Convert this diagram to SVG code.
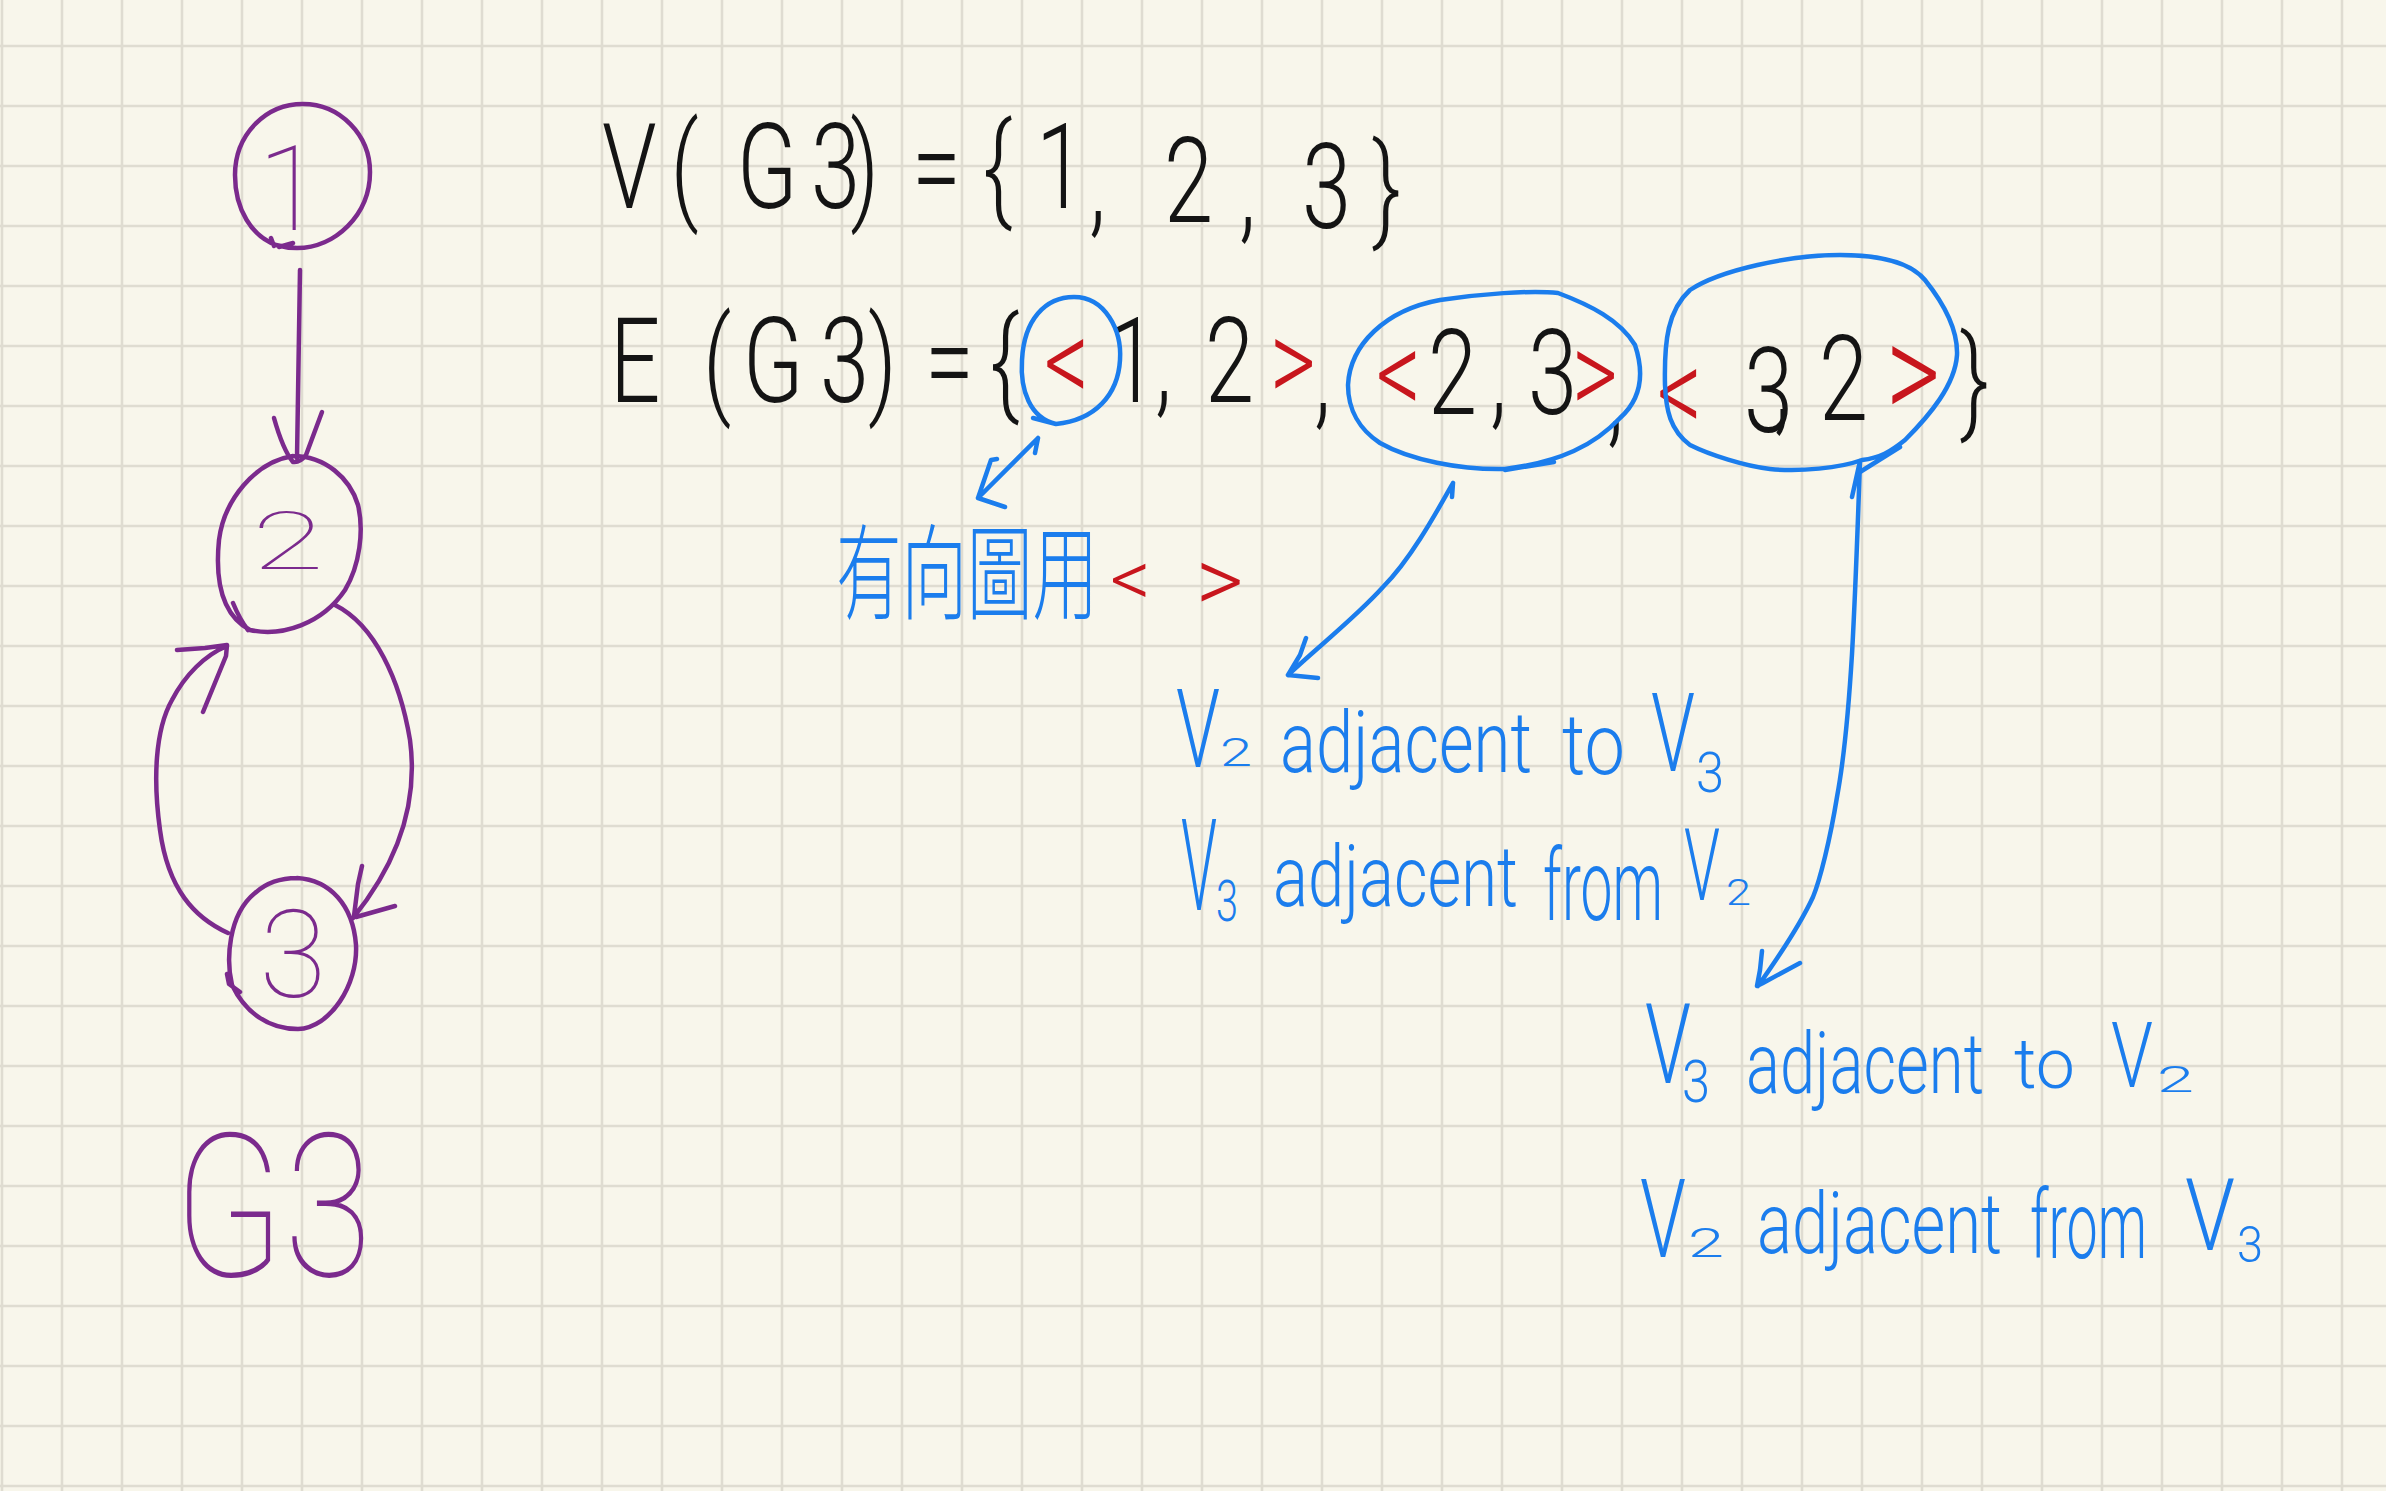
<svg xmlns="http://www.w3.org/2000/svg" width="2386" height="1491" viewBox="0 0 2386 1491">
<defs>
<pattern id="grid" x="-28" y="16" width="60" height="60" patternUnits="userSpaceOnUse">
<path d="M30,0 V60 M0,30 H60" stroke="#dfdcd1" stroke-width="2.6" fill="none"/>
</pattern>
<style>
.pu{fill:none;stroke:#7b2a8d;stroke-width:4.5;stroke-linecap:round;stroke-linejoin:round}
.bl{fill:none;stroke:#1b7ded;stroke-width:4.5;stroke-linecap:round;stroke-linejoin:round}
.hw{font-family:Roboto,"Liberation Sans",sans-serif;font-weight:300}
.thin{font-weight:100}
.blk{fill:#141414}
.r{fill:#c8161d}
.bt{fill:#1b7ded}
.pt{fill:#7b2a8d}
.cjk{font-family:"Noto Sans CJK TC","Noto Sans CJK SC",sans-serif;font-weight:300}
</style>
</defs>
<rect width="2386" height="1491" fill="#f8f6eb"/>
<rect width="2386" height="1491" fill="url(#grid)"/>

<g id="node-1">
<path class="pu" d="M276,245 C252,236 235,210 235,175 C235,135 265,104 303,104 C340,104 370,135 370,172 C370,215 335,248 297,248 C290,248 283,247 276,245 M271,238 L274,246 M279,247 L293,243"/>
<text class="hw thin pt" x="290" y="230" font-size="118" text-anchor="middle">1</text>
</g>

<g id="node-2">
<path class="pu" d="M293,456 C255,462 224,500 219,540 C215,580 222,615 250,630 C282,637 322,624 345,590 C360,565 364,530 358,505 C350,478 325,456 293,456 M233,603 Q240,620 248,630"/>
<text class="hw thin pt" x="252" y="569" font-size="80" textLength="72" lengthAdjust="spacingAndGlyphs">2</text>
</g>

<g id="node-3">
<path class="pu" d="M297,878 C330,880 353,905 356,945 C358,985 330,1028 298,1029 C268,1029 245,1012 232,985 C226,960 228,915 255,893 C265,884 280,878 297,878 M227,974 L229,984 L240,992"/>
<text class="hw thin pt" x="293" y="997" font-size="122" text-anchor="middle">3</text>
</g>

<g id="graph-label">
<text class="hw thin pt" x="174" y="1276" font-size="200" textLength="198" lengthAdjust="spacingAndGlyphs">G3</text>
</g>

<g id="vertex-set">
<text class="hw blk" transform="scale(0.75 1)" y="208" font-size="118"><tspan x="802.7 894 982.7 1081.3 1133.7 1216 1310.7 1381.3">V(G3)={1</tspan><tspan x="1452" y="222">,</tspan><tspan x="1480 1552"> 2</tspan><tspan x="1652" y="228">,</tspan><tspan x="1693.3 1736 1829.3"> 3}</tspan></text>
</g>

<g id="edge-set">
<text class="hw blk" transform="scale(0.75 1)" y="402" font-size="118"><tspan x="813.3 937.3 990.7 1093.3 1157.3 1233.3 1320">E(G3)={</tspan><tspan class="r" x="1392">&lt;</tspan><tspan x="1477.3 1540 1606.7">1,2</tspan><tspan class="r" x="1693.3">&gt;</tspan><tspan x="1752" y="414">,</tspan><tspan class="r" x="1834.7">&lt;</tspan><tspan x="1904 1986.7 2037.3">2,3</tspan><tspan class="r" x="2096">&gt;</tspan><tspan x="2142.7" y="432">,</tspan><tspan class="r" x="2209.3">&lt;</tspan><tspan x="2325.3">3</tspan><tspan x="2365" y="420">,</tspan><tspan x="2425.3">2</tspan><tspan class="r" x="2514.7" font-size="140">&gt;</tspan><tspan x="2613.3">}</tspan></text>
</g>

<g id="highlight-1">
<path class="bl" d="M1056,424 C1030,418 1020,390 1022,360 C1024,320 1045,297 1074,297 C1105,297 1122,330 1120,360 C1118,395 1095,420 1056,424 L1033,418"/>
</g>
<g id="highlight-2">
<path class="bl" d="M1380,443 C1360,430 1348,410 1348,385 C1350,345 1385,310 1440,300 C1480,294 1530,290 1558,293 C1590,305 1620,320 1635,345 C1645,375 1640,400 1620,418 C1595,445 1560,462 1505,469 C1460,470 1410,460 1380,443 M1505,470 L1554,462"/>
</g>
<g id="highlight-3">
<path class="bl" d="M1862,460 C1840,468 1800,472 1770,469 C1745,466 1710,455 1690,445 C1670,430 1666,410 1665,385 C1664,340 1668,310 1690,290 C1720,270 1790,255 1840,255 C1880,255 1910,262 1925,280 C1945,305 1958,330 1957,355 C1955,385 1930,415 1905,440 C1890,452 1880,458 1862,460 M1860,472 L1900,447"/>
</g>

<g id="note-directed">
<text class="cjk bt" y="612"><tspan x="836" font-size="104" textLength="262" lengthAdjust="spacingAndGlyphs">有向圖用</tspan><tspan class="hw r" x="1110" y="606" font-size="80">&lt;</tspan><tspan class="hw r" x="1196" y="612" font-size="92">&gt;</tspan></text>
</g>

<g id="note-23">
<text class="hw bt"><tspan x="1176" y="767" font-size="110" textLength="44" lengthAdjust="spacingAndGlyphs">V</tspan><tspan x="1220" y="766" font-size="38" textLength="32" lengthAdjust="spacingAndGlyphs">2</tspan><tspan x="1280" y="772" font-size="85" textLength="252" lengthAdjust="spacingAndGlyphs">adjacent</tspan><tspan x="1562" y="774" font-size="85" textLength="63" lengthAdjust="spacingAndGlyphs">to</tspan><tspan x="1651" y="771" font-size="110" textLength="44" lengthAdjust="spacingAndGlyphs">V</tspan><tspan x="1696" y="792" font-size="55" textLength="28" lengthAdjust="spacingAndGlyphs">3</tspan></text>
<text class="hw bt"><tspan x="1181" y="910" font-size="128" textLength="36" lengthAdjust="spacingAndGlyphs">V</tspan><tspan x="1216" y="921" font-size="58" textLength="22" lengthAdjust="spacingAndGlyphs">3</tspan><tspan x="1273" y="906" font-size="85" textLength="245" lengthAdjust="spacingAndGlyphs">adjacent</tspan><tspan x="1543" y="920" font-size="100" textLength="120" lengthAdjust="spacingAndGlyphs">from</tspan><tspan x="1684" y="900" font-size="100" textLength="36" lengthAdjust="spacingAndGlyphs">V</tspan><tspan x="1726" y="905" font-size="36" textLength="25" lengthAdjust="spacingAndGlyphs">2</tspan></text>
</g>

<g id="note-32">
<text class="hw bt"><tspan x="1645" y="1083" font-size="112" textLength="46" lengthAdjust="spacingAndGlyphs">V</tspan><tspan x="1682" y="1102" font-size="60" textLength="28" lengthAdjust="spacingAndGlyphs">3</tspan><tspan x="1746" y="1093" font-size="85" textLength="238" lengthAdjust="spacingAndGlyphs">adjacent</tspan><tspan x="2014" y="1088" font-size="70" textLength="61" lengthAdjust="spacingAndGlyphs">to</tspan><tspan x="2111" y="1087" font-size="90" textLength="42" lengthAdjust="spacingAndGlyphs">V</tspan><tspan x="2157" y="1092" font-size="36" textLength="37" lengthAdjust="spacingAndGlyphs">2</tspan></text>
<text class="hw bt"><tspan x="1640" y="1257" font-size="110" textLength="46" lengthAdjust="spacingAndGlyphs">V</tspan><tspan x="1688" y="1257" font-size="40" textLength="36" lengthAdjust="spacingAndGlyphs">2</tspan><tspan x="1757" y="1253" font-size="85" textLength="245" lengthAdjust="spacingAndGlyphs">adjacent</tspan><tspan x="2030" y="1258" font-size="95" textLength="117" lengthAdjust="spacingAndGlyphs">from</tspan><tspan x="2185" y="1250" font-size="100" textLength="50" lengthAdjust="spacingAndGlyphs">V</tspan><tspan x="2237" y="1262" font-size="50" textLength="26" lengthAdjust="spacingAndGlyphs">3</tspan></text>
</g>

<g id="connectors">
<path class="pu" d="M300,270 L297,458 M274,418 Q283,450 293,462 Q300,463 306,455 L322,412"/>
<path class="pu" d="M335,605 C375,625 400,680 410,740 C418,800 400,860 353,918 M362,866 L358,884 L354,916 M356,917 L395,906"/>
<path class="pu" d="M228,933 C195,918 168,890 160,830 C153,780 155,730 172,700 C185,675 205,655 227,646 M177,650 L205,648 L227,645 L226,656 L203,712"/>
<path class="bl" d="M1038,438 L978,498 M997,459 L991,460 L978,498 L1005,507 M1035,453 L1038,438"/>
<path class="bl" d="M1453,483 C1435,515 1410,560 1383,587 C1355,618 1320,645 1288,675 M1306,638 L1300,655 L1288,675 L1318,678 M1452,497 L1453,483"/>
<path class="bl" d="M1860,461 C1858,520 1855,600 1852,654 C1848,720 1842,770 1837,797 C1830,840 1820,880 1813,897 C1800,925 1780,955 1758,986 M1762,951 L1760,970 L1757,986 L1763,983 L1800,963 M1852,497 L1860,461"/>
</g>
</svg>
